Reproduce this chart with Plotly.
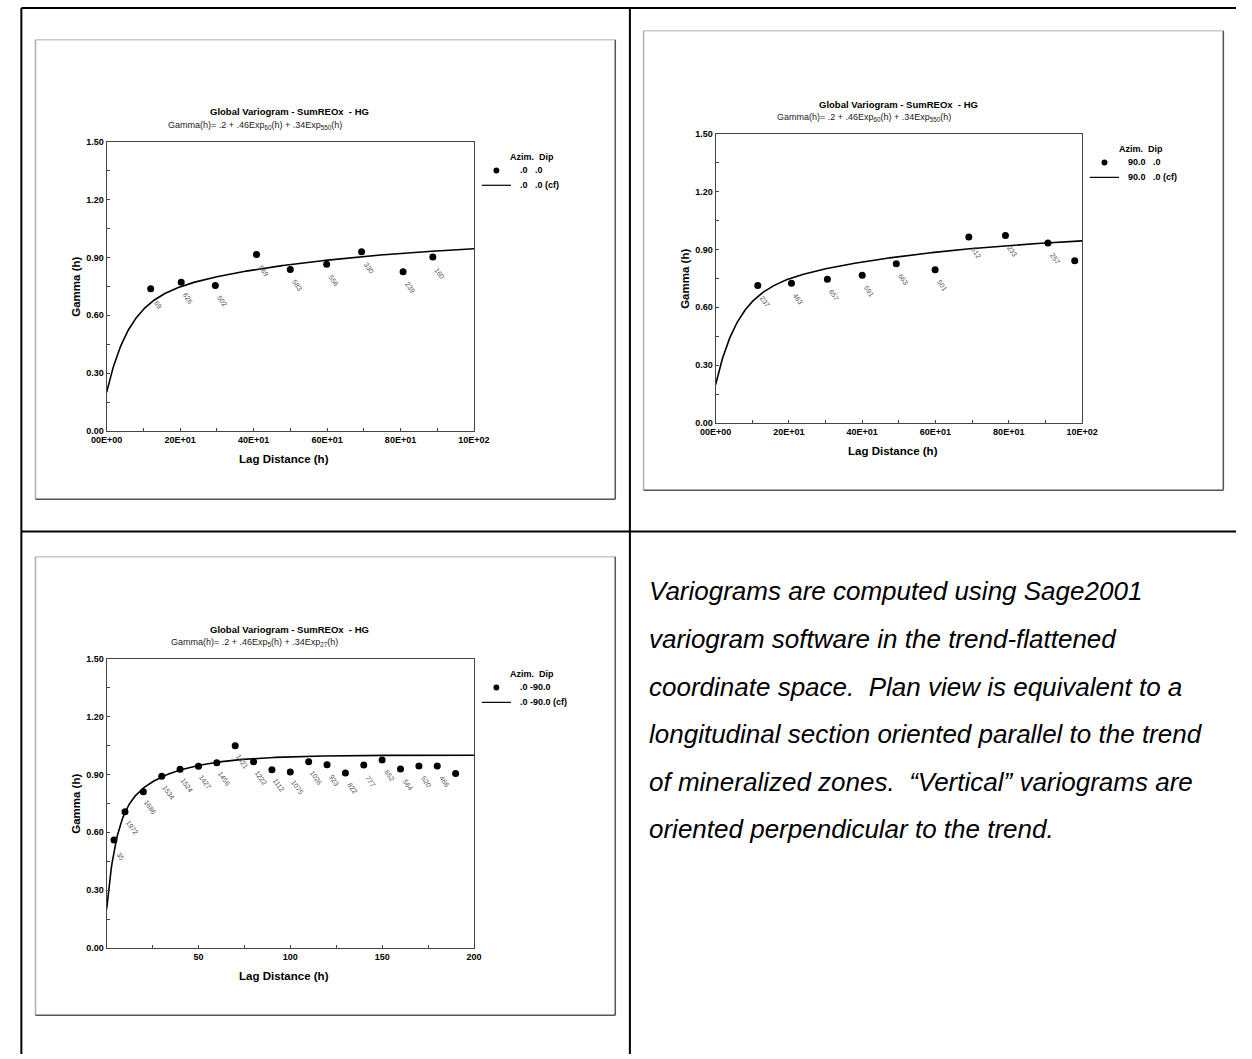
import plotly.graph_objects as go

W, H = 1252, 1059
FONT = "Arial, Liberation Sans, sans-serif"

# --- data -------------------------------------------------------------------
# plan view (azimuth 0, dip 0)
lag_az0 = [120, 203, 296, 408, 500, 599, 694, 807, 888]
gam_az0 = [0.737, 0.771, 0.754, 0.915, 0.837, 0.864, 0.929, 0.826, 0.902]
pairs_az0 = ["69", "626", "502", "569", "583", "556", "330", "239", "160"]

# plan view (azimuth 90, dip 0)
lag_az90 = [115, 207, 305, 400, 493, 599, 691, 791, 907, 980]
gam_az90 = [0.713, 0.725, 0.746, 0.766, 0.826, 0.795, 0.965, 0.972, 0.934, 0.842]
pairs_az90 = ["237", "463", "657", "591", "663", "501", "512", "233", "257", ""]

# vertical (dip -90)
lag_vert = [4, 10, 20, 30, 40, 50, 60, 70, 80, 90, 100, 110, 120, 130, 140,
            150, 160, 170, 180, 190]
gam_vert = [0.560, 0.707, 0.811, 0.891, 0.927, 0.942, 0.961, 1.049, 0.966,
            0.925, 0.913, 0.966, 0.951, 0.908, 0.949, 0.975, 0.929, 0.944,
            0.944, 0.905]
pairs_vert = ["35", "1972", "1686", "1534", "1524", "1427", "1456", "1421",
              "1222", "1112", "1075", "1026", "923", "822", "777", "652",
              "564", "520", "466", ""]

# fitted model: nugget + two exponential structures (sill, range)
nugget = 0.2
sills = [0.46, 0.34]
ranges_plan = [60, 550]
ranges_vert = [5, 27]

x_ticks_plan = [0, 200, 400, 600, 800, 1000]
x_ticktext_plan = ["00E+00", "20E+01", "40E+01", "60E+01", "80E+01", "10E+02"]
x_ticks_vert = [50, 100, 150, 200]
y_ticks = [0.0, 0.3, 0.6, 0.9, 1.2, 1.5]

note_lines = [
    "Variograms are computed using Sage2001",
    "variogram software in the trend-flattened",
    "coordinate space.\u00a0 Plan view is equivalent to a",
    "longitudinal section oriented parallel to the trend",
    "of mineralized zones.\u00a0 \u201cVertical\u201d variograms are",
    "oriented perpendicular to the trend.",
]


def model_curve(xmax, ranges, n=400):
    hs = [xmax * i / n for i in range(n + 1)]
    gs = []
    for h in hs:
        g = nugget
        for c, a in zip(sills, ranges):
            g += c * (1 - 2.718281828459045 ** (-h / a))
        gs.append(g)
    return hs, gs


def px(x):
    return x / W


def py(y):
    return 1 - y / H


def label(x, y, text, size, anchor="center", angle=0, color="black"):
    return dict(x=px(x), y=py(y), xref="paper", yref="paper", text=text,
                showarrow=False, xanchor=anchor, yanchor="middle",
                textangle=angle, font=dict(family=FONT, size=size, color=color))


fig = go.Figure()
annotations = []
shapes = []

panels = [
    dict(name="", box=(93, 470, 138, 430), frame=(20, 615, 35, 499),
         lag=lag_az0, gam=gam_az0, pairs=pairs_az0, xmax=1000,
         ranges=ranges_plan, sub="Gamma(h)= .2 + .46Exp<sub>60</sub>(h) + .34Exp<sub>550</sub>(h)",
         rows=[".0\u00a0\u00a0\u00a0.0", ".0\u00a0\u00a0\u00a0.0 (cf)"]),
    dict(name="2", box=(718, 1094, 130, 422), frame=(644, 1239, 26, 490),
         lag=lag_az90, gam=gam_az90, pairs=pairs_az90, xmax=1000,
         ranges=ranges_plan, sub="Gamma(h)= .2 + .46Exp<sub>60</sub>(h) + .34Exp<sub>550</sub>(h)",
         rows=["90.0\u00a0\u00a0\u00a0.0", "90.0\u00a0\u00a0\u00a0.0 (cf)"]),
    dict(name="3", box=(93, 470, 660, 952), frame=(20, 615, 557, 1020),
         lag=lag_vert, gam=gam_vert, pairs=pairs_vert, xmax=200,
         ranges=ranges_vert, sub="Gamma(h)= .2 + .46Exp<sub>5</sub>(h) + .34Exp<sub>27</sub>(h)",
         rows=[".0 -90.0", ".0 -90.0 (cf)"]),
]

for p in panels:
    xa, ya = "x" + p["name"], "y" + p["name"]
    l, r, t, b = p["box"]
    hs, gs = model_curve(p["xmax"], p["ranges"])
    fig.add_trace(go.Scatter(x=hs, y=gs, mode="lines", xaxis=xa, yaxis=ya,
                             line=dict(color="black", width=1.6),
                             showlegend=False, hoverinfo="skip"))
    fig.add_trace(go.Scatter(x=p["lag"], y=p["gam"], mode="markers",
                             xaxis=xa, yaxis=ya, showlegend=False,
                             marker=dict(color="black", size=7)))
    for xv, yv, lab in zip(p["lag"], p["gam"], p["pairs"]):
        if lab:
            annotations.append(dict(x=xv, y=yv, xref=xa, yref=ya, text=lab,
                                    showarrow=False, textangle=55,
                                    xanchor="center", yanchor="middle",
                                    xshift=7, yshift=-16,
                                    font=dict(size=7, color="#555", family=FONT)))

    plan = p["xmax"] == 1000
    xkw = dict(domain=[px(l), px(r)], range=[0, p["xmax"]], anchor=ya,
               showline=True, mirror=True, linecolor="#444", linewidth=1,
               showgrid=False, zeroline=False, ticks="inside", ticklen=3,
               tickcolor="#444",
               minor=dict(ticks="inside", ticklen=3, tickcolor="#444",
                          dtick=100 if plan else 25, tick0=0, showgrid=False),
               tickfont=dict(family=FONT, size=9, color="black"))
    if plan:
        xkw.update(tickvals=x_ticks_plan,
                   ticktext=["<b>%s</b>" % s for s in x_ticktext_plan])
    else:
        xkw.update(tickvals=x_ticks_vert,
                   ticktext=["<b>%d</b>" % v for v in x_ticks_vert])
    ykw = dict(domain=[py(b), py(t)], range=[0, 1.5], anchor=xa,
               showline=True, mirror=True, linecolor="#444", linewidth=1,
               showgrid=False, zeroline=False, ticks="inside", ticklen=3,
               tickcolor="#444",
               minor=dict(ticks="inside", ticklen=3, tickcolor="#444",
                          dtick=0.15, tick0=0, showgrid=False),
               tickvals=y_ticks, ticktext=["<b>%.2f</b>" % v for v in y_ticks],
               tickfont=dict(family=FONT, size=9, color="black"))
    fig.update_layout({"xaxis" + p["name"]: xkw, "yaxis" + p["name"]: ykw})

    # chart frame (image border)
    fl, fr, ft, fb = p["frame"]
    for x0, x1, y0, y1, col in [(fl, fr, ft, ft, "#c8c8c8"), (fl, fl, ft, fb, "#b0b0b0"),
                                (fr, fr, ft, fb, "#555"), (fl, fr, fb, fb, "#555")]:
        shapes.append(dict(type="line", xref="paper", yref="paper", x0=px(x0),
                           x1=px(x1), y0=py(y0), y1=py(y1),
                           line=dict(color=col, width=1.5)))

    # titles
    annotations.append(label(l + 188, t - 30,
                             "<b>Global Variogram - SumREOx\u00a0 - HG</b>", 9.5))
    annotations.append(label(l + 152, t - 16, p["sub"], 9, color="#222"))
    # axis titles
    annotations.append(label((l + r) / 2 - 6, b + 28, "<b>Lag Distance (h)</b>", 11.5))
    annotations.append(label(l - 31, (t + b) / 2, "<b>Gamma (h)</b>", 11.5, angle=-90))
    # legend
    annotations.append(label(r + 60, t + 15, "<b>Azim.\u00a0 Dip</b>", 9))
    for k, row in enumerate(p["rows"]):
        annotations.append(label(r + 45, t + 29 + 15 * k, "<b>%s</b>" % row, 9,
                                 anchor="left"))
    shapes.append(dict(type="circle", xref="paper", yref="paper",
                       x0=px(r + 20), x1=px(r + 26), y0=py(t + 26), y1=py(t + 32),
                       fillcolor="black", line=dict(color="black", width=0)))
    shapes.append(dict(type="line", xref="paper", yref="paper",
                       x0=px(r + 8), x1=px(r + 38), y0=py(t + 44), y1=py(t + 44),
                       line=dict(color="black", width=1.2)))

# page table borders (right and bottom edges fall outside the page)
for x0, x1, y0, y1 in [(5.5, 1252, 3, 3), (5.5, 1252, 531.5, 531.5),
                       (5.5, 5.5, 3, 1059), (630, 630, 3, 1059)]:
    shapes.append(dict(type="line", xref="paper", yref="paper", x0=px(x0), x1=px(x1),
                       y0=py(y0), y1=py(y1), line=dict(color="black", width=2)))

# explanatory note
for k, line in enumerate(note_lines):
    annotations.append(label(648, 592 + 48 * k, "<i>%s</i>" % line, 26, anchor="left"))

fig.update_layout(
    width=W, height=H, autosize=False,
    margin=dict(l=0, r=0, t=0, b=0),
    paper_bgcolor="white", plot_bgcolor="white",
    showlegend=False,
    annotations=annotations, shapes=shapes,
)

fig.write_html("out.html", config={"displayModeBar": False},
               post_script="document.body.style.margin='0';"
                           "document.body.style.overflow='hidden';")
